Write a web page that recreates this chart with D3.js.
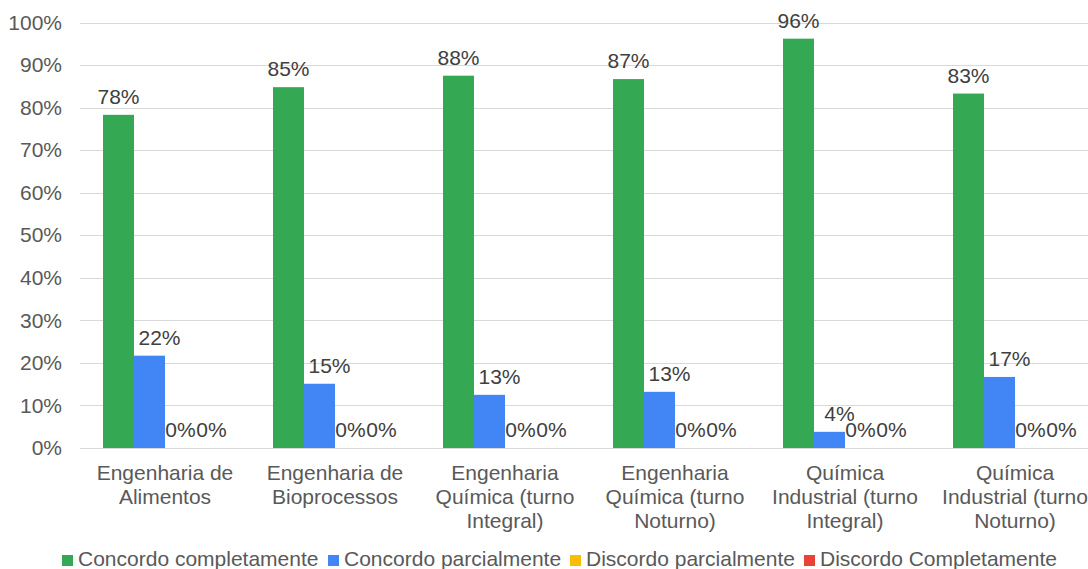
<!DOCTYPE html>
<html><head><meta charset="utf-8">
<script src="https://cdn.jsdelivr.net/npm/d3@7"></script>
<style>body{margin:0;background:#fff;overflow:hidden}svg{display:block;font-family:"Liberation Sans",Arial,sans-serif}</style>
</head><body><svg id="c" width="1088" height="569"></svg>
<script>
const categories = [
  ["Engenharia de","Alimentos"],
  ["Engenharia de","Bioprocessos"],
  ["Engenharia","Química (turno","Integral)"],
  ["Engenharia","Química (turno","Noturno)"],
  ["Química","Industrial (turno","Integral)"],
  ["Química","Industrial (turno","Noturno)"]
];
const seriesNames = ["Concordo completamente","Concordo parcialmente","Discordo parcialmente","Discordo Completamente"];
const seriesColors = ["#34A853","#4285F4","#FBBC04","#EA4335"];
const concordoCompletamente = [0.783,0.848,0.875,0.867,0.962,0.833];
const concordoParcialmente = [0.217,0.151,0.125,0.132,0.038,0.167];
const discordoParcialmente = [0,0,0,0,0,0];
const discordoCompletamente = [0,0,0,0,0,0];
const yTicks = [0,0.1,0.2,0.3,0.4,0.5,0.6,0.7,0.8,0.9,1.0];

const values = [concordoCompletamente, concordoParcialmente, discordoParcialmente, discordoCompletamente];
const svg = d3.select("#c");
const catIdx = categories.map((d,i)=>i);
const x0 = d3.scaleBand().domain(catIdx).range([80,1100]);
const x1 = d3.scaleBand().domain(d3.range(4)).range([0,x0.bandwidth()]).paddingOuter(0.742);
const y = d3.scaleLinear().domain([0,1]).range([448,22.5]);
const fmt = d3.format(".0%");
const labelShift = [0,10,0,0];

// gridlines
svg.append("g").selectAll("line").data(yTicks).join("line")
  .attr("x1",80).attr("x2",1088).attr("y1",d=>Math.round(y(d))+0.5).attr("y2",d=>Math.round(y(d))+0.5)
  .attr("stroke","#d9d9d9").attr("stroke-width",1);

// y axis labels
const yAxis = d3.axisLeft(y).tickValues(yTicks).tickFormat(fmt).tickSize(0).tickPadding(0);
const ya = svg.append("g").attr("transform","translate(62,0)").call(yAxis);
ya.select(".domain").remove();
ya.selectAll("text").attr("fill","#595959").style("font-size","21px").attr("font-family","Liberation Sans, Arial, sans-serif");

// bars
const groups = svg.append("g").selectAll("g").data(catIdx).join("g")
  .attr("transform",i=>`translate(${x0(i)},0)`);
groups.selectAll("rect").data(i=>values.map((s,k)=>({k,v:s[i]}))).join("rect")
  .attr("x",d=>x1(d.k)).attr("width",x1.bandwidth())
  .attr("y",d=>y(d.v)).attr("height",d=>y(0)-y(d.v))
  .attr("fill",d=>seriesColors[d.k]);
groups.selectAll("text.lbl").data(i=>values.map((s,k)=>({k,v:s[i]}))).join("text")
  .attr("class","lbl")
  .attr("x",d=>x1(d.k)+x1.bandwidth()/2+labelShift[d.k]).attr("y",d=>y(d.v)-11)
  .attr("text-anchor","middle").attr("fill","#404040").style("font-size","21px")
  .text(d=>fmt(d.v));

// category labels
const xAxis = svg.append("g");
catIdx.forEach(i=>{
  const cx = x0(i)+x0.bandwidth()/2;
  const t = xAxis.append("text").attr("x",cx).attr("y",480)
    .attr("text-anchor","middle").attr("fill","#595959").style("font-size","21px");
  categories[i].forEach((line,j)=>t.append("tspan").attr("x",cx).attr("y",480+j*24).text(line));
});

// legend
const legendX = [62,328,570,804];
const lg = svg.append("g").selectAll("g").data(seriesNames).join("g")
  .attr("transform",(d,i)=>`translate(${legendX[i]},0)`);
lg.append("rect").attr("x",0).attr("y",555).attr("width",11).attr("height",11).attr("fill",(d,i)=>seriesColors[i]);
lg.append("text").attr("x",16).attr("y",566).attr("fill","#595959").style("font-size","21px").text(d=>d);
</script></body></html>
